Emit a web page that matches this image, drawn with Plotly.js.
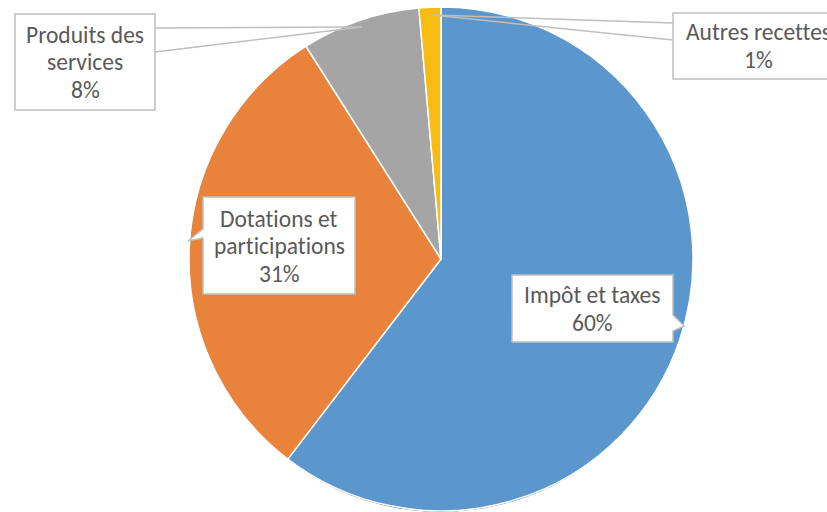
<!DOCTYPE html>
<html>
<head>
<meta charset="utf-8">
<script src="https://cdn.plot.ly/plotly-3.0.1.min.js"></script>
<style>html,body{margin:0;padding:0;background:#fff;}#chart{width:827px;height:512px;}text{font-variant-ligatures:none;font-feature-settings:"liga" 0;}</style>
</head>
<body>
<div id="chart"></div>
<script>
// Data
const categories = ["Impôt et taxes", "Dotations et participations", "Produits des services", "Autres recettes"];
const displayLabels = ["Impôt et taxes", "Dotations et<br>participations", "Produits des<br>services", "Autres recettes"];
const values = [60.4, 30.6, 7.6, 1.4];
const colors = ["#5B97CD", "#E9823A", "#A5A5A5", "#F7BC12"];
const shadowColors = ["#27415B", "#7A3E12", "#555555", "#7A5C00"];

const W = 827, H = 512;
const total = values.reduce((a, b) => a + b, 0);
const pct = values.map(v => Math.round(v / total * 100) + "%");

// pie: center (441, 259), radius 252
const cx = 441, cy = 259, R = 252;
const domX = [(cx - R) / W, (cx + R) / W];
const domY = [(H - cy - R) / H, (H - cy + R) / H];
const shadowOff = 5 / H;

const traces = [
  {
    type: "pie", values: values, labels: categories, sort: false, direction: "clockwise", rotation: 0,
    domain: {x: domX, y: [domY[0] - shadowOff, domY[1] - shadowOff]},
    marker: {colors: shadowColors, line: {color: "rgba(0,0,0,0)", width: 0}},
    textinfo: "none", hoverinfo: "skip", showlegend: false
  },
  {
    type: "pie", values: values, labels: categories, sort: false, direction: "clockwise", rotation: 0,
    domain: {x: domX, y: domY},
    marker: {colors: colors, line: {color: "#ffffff", width: 1.5}},
    textinfo: "none", hoverinfo: "label+percent", showlegend: false
  }
];

// pixel -> paper helpers
const px = x => x / W;
const py = y => 1 - y / H;
function pathOf(pts) {
  return "M" + pts.map(p => px(p[0]).toFixed(5) + "," + py(p[1]).toFixed(5)).join(" L") + " Z";
}
const border = "#BFBFBF";
const shapes = [
  // Produits des services box + callout lines
  {type: "path", xref: "paper", yref: "paper", path: pathOf([[15,14],[155,14],[155,110],[15,110]]), fillcolor: "#ffffff", line: {color: border, width: 1.5}},
  {type: "line", xref: "paper", yref: "paper", x0: px(155), y0: py(28), x1: px(362), y1: py(27), line: {color: border, width: 1.5}},
  {type: "line", xref: "paper", yref: "paper", x0: px(155), y0: py(52), x1: px(362), y1: py(27), line: {color: border, width: 1.5}},
  // Autres recettes box + callout lines
  {type: "path", xref: "paper", yref: "paper", path: pathOf([[673,13],[835,13],[835,79],[673,79]]), fillcolor: "#ffffff", line: {color: border, width: 1.5}},
  {type: "line", xref: "paper", yref: "paper", x0: px(673), y0: py(23), x1: px(432), y1: py(15), line: {color: border, width: 1.5}},
  {type: "line", xref: "paper", yref: "paper", x0: px(673), y0: py(40), x1: px(432), y1: py(15), line: {color: border, width: 1.5}},
  // Dotations box with pointer
  {type: "path", xref: "paper", yref: "paper", path: pathOf([[203,197],[355,197],[355,294],[203,294],[203,238],[188,241],[203,229]]), fillcolor: "#ffffff", line: {color: border, width: 1.5}},
  // Impôt box with pointer
  {type: "path", xref: "paper", yref: "paper", path: pathOf([[512,275],[673,275],[673,315],[684,326],[673,331],[673,342],[512,342]]), fillcolor: "#ffffff", line: {color: border, width: 1.5}}
];

const textPos = [[592, 309], [279, 246], [85, 62], [758, 46]];
const lineGap = 27.5;
const annotations = [];
categories.forEach((c, i) => {
  const lines = displayLabels[i].split("<br>").concat([pct[i]]);
  const n = lines.length;
  lines.forEach((t, k) => {
    annotations.push({
      xref: "paper", yref: "paper",
      x: px(textPos[i][0]), y: py(textPos[i][1] + (k - (n - 1) / 2) * lineGap),
      xanchor: "center", yanchor: "middle", showarrow: false,
      text: t,
      font: {family: "Carlito, Lato, sans-serif", size: 23.5, color: "#595959"}
    });
  });
});

const layout = {
  width: W, height: H,
  margin: {l: 0, r: 0, t: 0, b: 0},
  paper_bgcolor: "#ffffff",
  showlegend: false,
  shapes: shapes,
  annotations: annotations
};

Plotly.newPlot("chart", traces, layout, {staticPlot: true, displayModeBar: false});
</script>
</body>
</html>
